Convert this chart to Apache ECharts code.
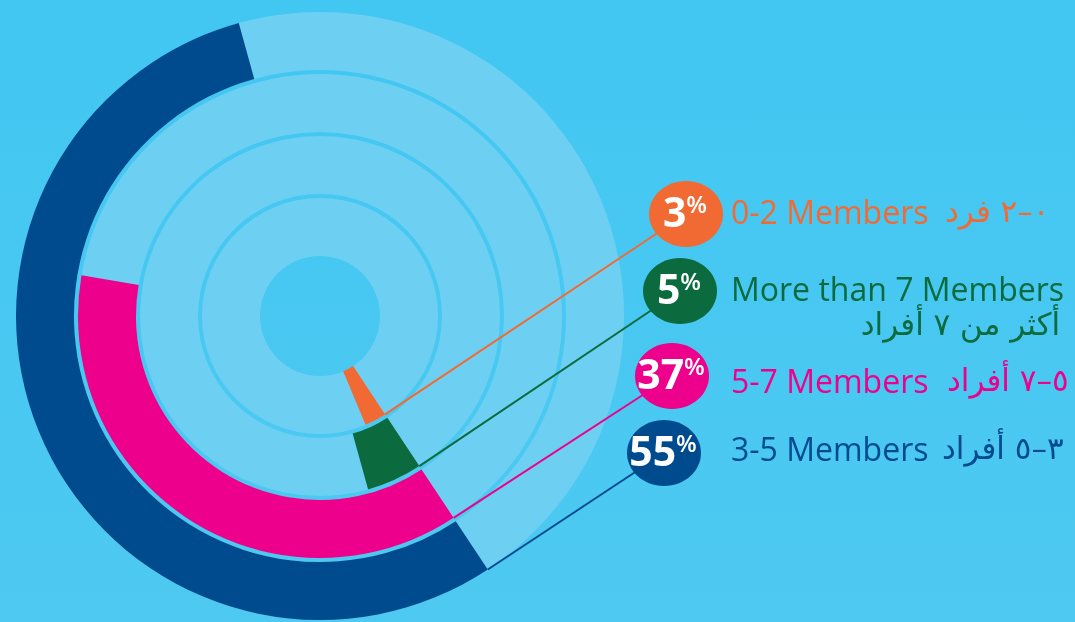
<!DOCTYPE html>
<html>
<head>
<meta charset="utf-8">
<script src="https://cdn.jsdelivr.net/npm/echarts@6/dist/echarts.min.js"></script>
<style>
  html, body { margin: 0; padding: 0; }
  #chart { width: 1075px; height: 622px; background: linear-gradient(#41c7f2, #4ec9f1); }
</style>
</head>
<body>
<div id="chart"></div>
<script>
// rings from the inside out
const categories = ['0-2 Members', 'More than 7 Members', '5-7 Members', '3-5 Members'];
const arabicNames = ['٠–٢ فرد', 'أكثر من ٧ أفراد', '٥–٧ أفراد', '٣–٥ أفراد'];
const shares = [3, 5, 37, 55];

const ringColors = ['#f26a33', '#0b6b3e', '#ec008c', '#004b8e'];
const lightRing = '#6dd0f2';
const BAR_W = 58;

// badge / text layout on the right
const badgeCenters = [[686, 214], [680, 291], [672, 376], [664, 453]];
const textX = 731;
const textY = [215, 292, 384, 452];
const arabicPos = [[945, 214, 'left'], [1060, 327, 'right'], [947, 383, 'left'], [942, 451, 'left']];

const chart = echarts.init(document.getElementById('chart'));

function renderBadge(params, api) {
  const i = params.dataIndex;
  // leader line leaves every ring at the arc's zero edge, outer corner
  const pt = api.coord([api.value(0), 0]);
  const cs = params.coordSys;
  const dx = pt[0] - cs.cx, dy = pt[1] - cs.cy;
  const d = Math.sqrt(dx * dx + dy * dy);
  const k = (d + BAR_W / 2) / d;
  const sx = cs.cx + dx * k, sy = cs.cy + dy * k;
  const c = ringColors[i];
  const b = badgeCenters[i];
  const a = arabicPos[i];
  return {
    type: 'group',
    children: [
      { type: 'line', shape: { x1: sx, y1: sy, x2: b[0], y2: b[1] }, style: { stroke: c, lineWidth: 2 } },
      { type: 'ellipse', shape: { cx: b[0], cy: b[1], rx: 37, ry: 33 }, style: { fill: c } },
      {
        type: 'text', x: b[0] - 1, y: b[1] + 1,
        style: {
          text: '{n|' + api.value(1) + '}{p|%}',
          align: 'center', verticalAlign: 'middle',
          rich: {
            n: { fontSize: 41, fontWeight: 'bold', fontFamily: 'Open Sans', fill: '#fff' },
            p: { fontSize: 24, fontWeight: 600, fontFamily: 'Open Sans', fill: '#fff', verticalAlign: 'top' }
          }
        }
      },
      {
        type: 'text', x: textX, y: textY[i],
        style: { text: categories[i], fontSize: 32, fontFamily: 'Open Sans', fill: c, align: 'left', verticalAlign: 'middle' }
      },
      {
        type: 'text', x: a[0], y: a[1],
        style: { text: arabicNames[i], fontSize: 31, fontFamily: 'DejaVu Sans', fill: c, align: a[2], verticalAlign: 'middle' }
      }
    ]
  };
}

chart.setOption({
  animation: false,
  polar: { center: [320, 316], radius: [58, 306] },
  angleAxis: { type: 'value', min: 0, max: 100, startAngle: 303.5, clockwise: true, show: false },
  radiusAxis: { type: 'category', data: categories, show: false },
  series: [
    {
      type: 'bar',
      coordinateSystem: 'polar',
      barWidth: BAR_W,
      showBackground: true,
      backgroundStyle: { color: lightRing },
      data: shares.map((v, i) => ({ value: v, itemStyle: { color: ringColors[i] } }))
    },
    {
      type: 'custom',
      coordinateSystem: 'polar',
      encode: { radius: 0, angle: 1 },
      renderItem: renderBadge,
      data: shares.map((v, i) => [i, v])
    }
  ]
});
</script>
</body>
</html>
